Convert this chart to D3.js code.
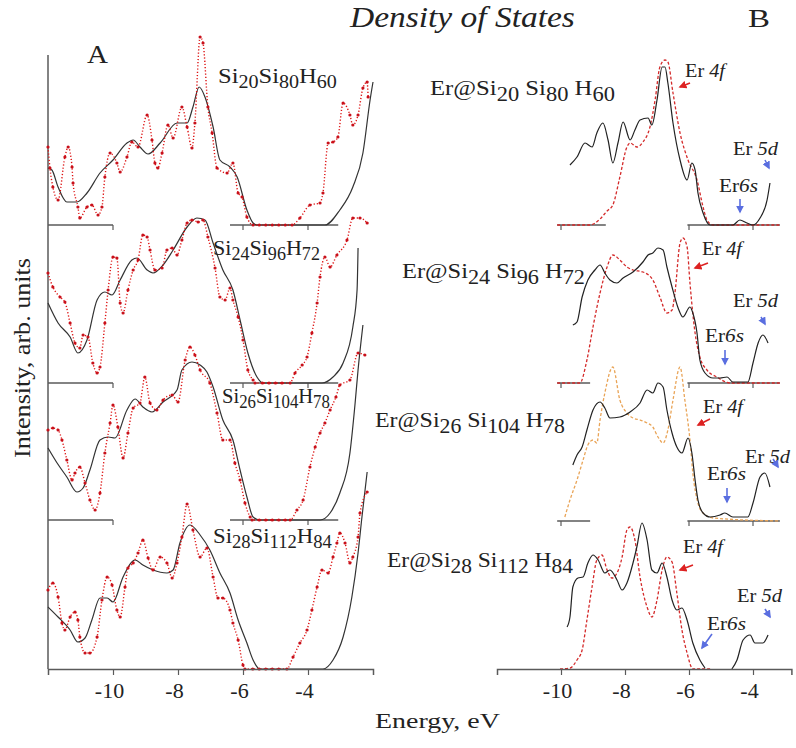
<!DOCTYPE html>
<html>
<head>
<meta charset="utf-8">
<script src="https://cdn.jsdelivr.net/npm/d3@7"></script>
<style>
  body { margin: 0; background: #fff; }
  svg { display: block; }
  text { font-family: "Liberation Serif", "Times New Roman", Times, serif; fill: #222; }
</style>
</head>
<body>
<svg id="chart"></svg>
<script>
// ---- data: energy (eV), intensity (arb. units) ----
const energyTicks = [-10, -8, -6, -4];

// Panel A, pure clusters: black = solid, red = dotted
const aBlack1 = [[-12,57],[-11.88,55],[-11.69,38],[-11.42,23],[-11.11,23],[-10.8,32],[-10.4,52],[-10,65],[-9.57,82],[-9.38,85],[-9.17,78],[-8.92,71],[-8.55,82],[-8.03,102],[-7.72,102],[-7.54,118],[-7.35,138],[-7.17,128],[-6.92,98],[-6.71,65],[-6.4,58],[-6.18,48],[-5.88,15],[-5.69,2],[-5.57,0],[-3.48,0],[-3.02,15],[-2.62,38],[-2.31,72],[-2.09,125],[-2,143]];
const aRed1 = [[-12,78],[-11.94,57],[-11.85,38],[-11.69,25],[-11.48,68],[-11.38,78],[-11.26,58],[-11.23,42],[-11.08,18],[-11.02,7],[-10.8,18],[-10.65,20],[-10.46,10],[-10.34,18],[-10.25,48],[-10.09,72],[-9.88,62],[-9.78,53],[-9.57,68],[-9.42,83],[-9.23,78],[-8.95,110],[-8.8,85],[-8.71,62],[-8.62,57],[-8.49,72],[-8.31,100],[-8.15,87],[-7.88,118],[-7.72,98],[-7.57,77],[-7.48,102],[-7.32,188],[-7.23,182],[-7.08,118],[-6.95,92],[-6.8,57],[-6.49,52],[-6.31,62],[-6.15,32],[-6.03,28],[-5.88,8],[-5.69,0],[-5.5,0],[-5.3,0],[-5.1,0],[-4.9,0],[-4.7,0],[-4.49,0],[-4.25,7],[-3.94,20],[-3.63,22],[-3.54,32],[-3.38,82],[-3.23,83],[-3.08,88],[-2.92,122],[-2.71,110],[-2.62,100],[-2.46,110],[-2.31,137],[-2.18,143],[-2.15,128]];

const aBlack2 = [[-12,80],[-11.69,60],[-11.32,46],[-11.08,30],[-10.8,43],[-10.49,83],[-10.25,91],[-10.03,88],[-9.78,103],[-9.42,123],[-9.26,125],[-8.95,113],[-8.77,110],[-8.46,118],[-8.15,133],[-7.72,156],[-7.42,165],[-7.17,163],[-6.92,140],[-6.62,113],[-6.31,93],[-6.09,63],[-5.85,30],[-5.57,6],[-5.38,0],[-3.57,0],[-3.23,6],[-2.92,20],[-2.62,56],[-2.49,93],[-2.46,135]];
const aRed2 = [[-12,110],[-11.85,96],[-11.63,86],[-11.48,81],[-11.32,60],[-11.17,40],[-11.02,35],[-10.92,48],[-10.77,46],[-10.62,20],[-10.49,10],[-10.4,16],[-10.25,60],[-10.15,93],[-10,126],[-9.88,125],[-9.78,80],[-9.69,70],[-9.54,93],[-9.38,113],[-9.23,123],[-9.08,148],[-8.95,146],[-8.86,133],[-8.71,113],[-8.49,115],[-8.34,133],[-8.18,135],[-8.03,128],[-7.88,143],[-7.72,160],[-7.57,163],[-7.38,161],[-7.23,163],[-7.08,146],[-6.86,115],[-6.71,86],[-6.55,83],[-6.4,95],[-6.31,83],[-6.15,66],[-6,43],[-5.85,13],[-5.69,3],[-5.63,0],[-5.4,0],[-5.2,0],[-5,0],[-4.8,0],[-4.55,0],[-4.4,10],[-4.18,18],[-4.03,26],[-3.88,50],[-3.72,80],[-3.63,106],[-3.48,126],[-3.32,116],[-3.11,128],[-2.8,143],[-2.62,165],[-2.4,165],[-2.18,160]];

const aBlack3 = [[-12,72],[-11.72,57],[-11.42,43],[-11.11,28],[-10.92,32],[-10.71,50],[-10.4,80],[-10.15,83],[-9.94,82],[-9.57,110],[-9.32,121],[-9.08,113],[-8.8,108],[-8.46,118],[-8.03,130],[-7.88,150],[-7.57,158],[-7.32,155],[-7.11,148],[-6.92,133],[-6.62,100],[-6.31,80],[-6.09,50],[-5.88,23],[-5.69,3],[-5.48,0],[-3.63,0],[-3.32,7],[-3.02,27],[-2.71,67],[-2.55,117],[-2.46,150],[-2.31,195]];
const aRed3 = [[-12,90],[-11.85,92],[-11.69,90],[-11.57,80],[-11.42,60],[-11.26,40],[-11.17,47],[-11.02,53],[-10.86,37],[-10.71,20],[-10.55,10],[-10.4,27],[-10.25,67],[-10.09,97],[-10,115],[-9.85,93],[-9.69,62],[-9.54,87],[-9.38,112],[-9.17,117],[-9.02,143],[-8.86,117],[-8.65,110],[-8.46,120],[-8.18,125],[-8,118],[-7.78,160],[-7.63,173],[-7.48,165],[-7.32,150],[-7.02,137],[-6.8,107],[-6.62,80],[-6.4,80],[-6.25,57],[-6.09,40],[-5.94,17],[-5.78,3],[-5.72,0],[-5.5,0],[-5.3,0],[-5.1,0],[-4.9,0],[-4.7,0],[-4.55,0],[-4.34,10],[-4.15,20],[-3.94,53],[-3.78,73],[-3.63,87],[-3.48,97],[-3.32,110],[-3.14,123],[-3.02,135],[-2.71,140],[-2.46,167],[-2.25,165]];

const aBlack4 = [[-12,62],[-11.69,52],[-11.32,39],[-11.08,27],[-10.86,31],[-10.65,49],[-10.4,71],[-10.18,71],[-10,67],[-9.69,92],[-9.32,109],[-9.08,104],[-8.77,99],[-8.34,96],[-8.15,99],[-7.94,126],[-7.63,144],[-7.32,134],[-7.02,119],[-6.71,96],[-6.4,76],[-6.15,49],[-5.88,26],[-5.69,9],[-5.48,0],[-3.54,0],[-3.23,9],[-2.92,32],[-2.65,72],[-2.46,116],[-2.34,152],[-2.18,197]];
const aRed4 = [[-12,79],[-11.85,86],[-11.69,72],[-11.57,46],[-11.48,39],[-11.32,52],[-11.17,57],[-11.08,49],[-11.02,32],[-10.86,16],[-10.71,16],[-10.49,32],[-10.34,69],[-10.18,92],[-10.03,84],[-9.88,59],[-9.78,52],[-9.63,82],[-9.54,101],[-9.38,106],[-9.23,116],[-9.08,129],[-8.92,111],[-8.77,99],[-8.55,112],[-8.34,106],[-8.18,91],[-8.03,106],[-7.88,132],[-7.72,165],[-7.54,139],[-7.32,112],[-7.11,121],[-6.92,92],[-6.77,71],[-6.62,71],[-6.4,59],[-6.31,46],[-6.15,29],[-6,4],[-5.94,0],[-5.7,0],[-5.5,0],[-5.3,0],[-5.1,0],[-4.9,0],[-4.65,0],[-4.46,12],[-4.25,26],[-4.03,39],[-3.88,59],[-3.72,82],[-3.57,99],[-3.38,96],[-3.23,112],[-3.11,126],[-3.02,136],[-2.86,126],[-2.71,106],[-2.62,112],[-2.46,132],[-2.4,156],[-2.18,177]];

// Panel B, Er-doped clusters: black = total DOS, dashed = Er 4f
const bBlack1 = [[-9.72,60],[-9.5,68],[-9.25,82],[-9.03,78],[-8.88,92],[-8.69,102],[-8.53,85],[-8.38,62],[-8.22,82],[-8.06,103],[-7.84,85],[-7.69,95],[-7.53,105],[-7.28,107],[-7.16,100],[-7,125],[-6.84,158],[-6.75,158],[-6.66,142],[-6.5,102],[-6.28,65],[-6.06,45],[-5.91,62],[-5.81,55],[-5.72,32],[-5.56,12],[-5.34,0],[-4.63,0],[-4.41,5],[-4.19,2],[-4,0],[-3.78,7],[-3.56,25],[-3.47,42]];
const bRed1 = [[-10.12,0],[-9.09,0],[-8.78,6],[-8.56,14],[-8.38,20],[-8.16,48],[-7.94,78],[-7.84,82],[-7.63,78],[-7.44,83],[-7.22,98],[-7.06,125],[-6.91,158],[-6.75,165],[-6.66,163],[-6.5,132],[-6.28,92],[-6.03,65],[-5.75,45],[-5.56,18],[-5.44,5],[-5.25,0],[-3.16,0]];

const bBlack2 = [[-9.63,58],[-9.5,61],[-9.34,86],[-9.16,103],[-8.94,113],[-8.78,118],[-8.63,110],[-8.47,103],[-8.25,100],[-8.06,105],[-7.75,111],[-7.44,121],[-7.28,128],[-7.13,130],[-6.97,135],[-6.81,133],[-6.69,116],[-6.53,96],[-6.34,75],[-6.19,66],[-5.97,76],[-5.88,70],[-5.75,50],[-5.66,23],[-5.5,10],[-5.25,5],[-5.03,5],[-4.81,6],[-4.63,1],[-4.16,1],[-4,20],[-3.84,40],[-3.69,48],[-3.53,40]];
const bRed2 = [[-10.12,0],[-9.41,0],[-9.19,23],[-9,56],[-8.78,90],[-8.56,116],[-8.38,128],[-8.16,123],[-7.94,116],[-7.75,113],[-7.44,111],[-7.13,103],[-6.91,86],[-6.69,70],[-6.53,73],[-6.44,90],[-6.28,140],[-6.19,145],[-6.06,136],[-5.97,100],[-5.81,50],[-5.66,26],[-5.44,13],[-5.13,6],[-4.72,0],[-3.16,0]];

const bBlack3 = [[-9.63,56],[-9.5,66],[-9.34,74],[-9.19,91],[-9,111],[-8.78,119],[-8.63,113],[-8.47,103],[-8.16,104],[-7.84,109],[-7.53,118],[-7.31,131],[-7.13,128],[-6.97,138],[-6.81,134],[-6.69,111],[-6.53,88],[-6.38,74],[-6.22,68],[-6.03,83],[-5.91,68],[-5.81,41],[-5.72,21],[-5.56,8],[-5.34,4],[-5.03,6],[-4.88,8],[-4.63,4],[-4.16,4],[-4,18],[-3.78,44],[-3.63,48],[-3.47,34]];
const bOrange3 = [[-9.88,4],[-9.72,21],[-9.5,41],[-9.31,61],[-9.16,76],[-9,81],[-8.88,78],[-8.78,101],[-8.63,128],[-8.38,154],[-8.16,121],[-7.94,108],[-7.75,103],[-7.53,101],[-7.31,98],[-7.13,94],[-6.97,84],[-6.81,78],[-6.66,91],[-6.5,121],[-6.28,154],[-6.13,121],[-5.97,81],[-5.88,48],[-5.72,18],[-5.56,8],[-5.25,3],[-3.16,0]];

const bBlack4 = [[-9.81,42],[-9.72,52],[-9.63,82],[-9.47,91],[-9.31,92],[-9.16,106],[-9,114],[-8.84,109],[-8.63,96],[-8.47,99],[-8.25,89],[-8.09,79],[-7.94,86],[-7.75,106],[-7.63,122],[-7.47,146],[-7.31,129],[-7.16,99],[-7,96],[-6.84,106],[-6.69,92],[-6.53,69],[-6.38,59],[-6.22,61],[-6.06,49],[-5.88,26],[-5.66,9],[-5.5,1]];
const bBlack4Tail = [[-4.66,0],[-4.5,9],[-4.31,29],[-4.09,34],[-3.94,26],[-3.69,26],[-3.53,34]];
const bRed4 = [[-10.03,0],[-9.72,1],[-9.5,9],[-9.34,19],[-9.19,49],[-9.03,82],[-8.88,109],[-8.72,114],[-8.56,99],[-8.41,91],[-8.25,96],[-8.09,112],[-7.94,139],[-7.84,142],[-7.69,129],[-7.53,92],[-7.31,62],[-7.16,52],[-7,69],[-6.84,99],[-6.69,112],[-6.53,107],[-6.38,76],[-6.22,39],[-6.06,16],[-5.88,0],[-5.3,0]];

const aNames = [["20","80","60"], ["24","96","72"], ["26","104","78"], ["28","112","84"]];

document.addEventListener('DOMContentLoaded', function() {
  const width = 796, height = 748;
  const serif = '"Liberation Serif", "Times New Roman", Times, serif';
  const svg = d3.select("#chart").attr("width", width).attr("height", height);
  svg.append("rect").attr("width", width).attr("height", height).attr("fill", "#fff");

  const axisColor = "#5a5a5a";
  const xA = d3.scaleLinear().domain([-12, -2]).range([48, 373]);
  const xB = d3.scaleLinear().domain([-12, -2.8]).range([497, 791.4]);
  const baseA = [225, 383, 520, 669];
  const baseB = [225, 383, 521, 669];
  const yFor = base => d3.scaleLinear().domain([0, 200]).range([base, base - 200]);

  // arrow markers
  const defs = svg.append("defs");
  [["redHead", "#d22"], ["blueHead", "#5a6ee0"]].forEach(([id, c]) => {
    defs.append("marker").attr("id", id).attr("viewBox", "0 0 10 10")
      .attr("refX", 8).attr("refY", 5).attr("markerWidth", 5).attr("markerHeight", 5)
      .attr("orient", "auto")
      .append("path").attr("d", "M0,0 L10,5 L0,10 z").attr("fill", c);
  });

  // helper: text built from parts, stretched to the target width
  function label(x, y, parts, size, width, opts = {}) {
    const t = svg.append("text").attr("font-size", size).attr("font-family", serif);
    if (opts.italic) t.attr("font-style", "italic");
    let shifted = 0;
    parts.forEach(p => {
      const s = t.append("tspan").text(p.t);
      const want = p.sub ? opts.sub || 5 : 0;
      if (want !== shifted) { s.attr("dy", want - shifted); shifted = want; }
      if (p.sub) s.attr("font-size", opts.subSize || size * 0.82);
      if (p.it) s.attr("font-style", "italic");
    });
    const w = t.node().getComputedTextLength();
    const sx = width ? width / w : 1;
    t.attr("transform", `translate(${x},${y}) scale(${sx},1)`);
    return t;
  }

  const lineOf = (x, y) => d3.line().x(d => x(d[0])).y(d => y(d[1])).curve(d3.curveMonotoneX);

  // ---------- Panel A ----------
  const gA = svg.append("g");
  gA.append("line").attr("x1", xA(-12)).attr("x2", xA(-12)).attr("y1", 55).attr("y2", 669)
    .attr("stroke", axisColor).attr("stroke-width", 1.5);

  const aBlack = [aBlack1, aBlack2, aBlack3, aBlack4];
  const aRed = [aRed1, aRed2, aRed3, aRed4];
  const segA = [[-12, -10], [-6.4, -3.07]];

  baseA.forEach((b, i) => {
    const y = yFor(b);
    if (i < 3) {
      segA.forEach(s => gA.append("line").attr("x1", xA(s[0])).attr("x2", xA(s[1]))
        .attr("y1", b).attr("y2", b).attr("stroke", axisColor).attr("stroke-width", 1.5));
      energyTicks.filter(t => t !== -8).forEach(t => gA.append("line")
        .attr("x1", xA(t)).attr("x2", xA(t)).attr("y1", b).attr("y2", b + 5)
        .attr("stroke", axisColor).attr("stroke-width", 1.2));
    }
    gA.append("path").datum(aBlack[i]).attr("d", lineOf(xA, y))
      .attr("fill", "none").attr("stroke", "#333").attr("stroke-width", 1.2);
    gA.append("path").datum(aRed[i]).attr("d", lineOf(xA, y))
      .attr("fill", "none").attr("stroke", "#d11").attr("stroke-width", 1.4)
      .attr("stroke-dasharray", "1.2,2");
    gA.selectAll(null).data(aRed[i]).enter().append("circle")
      .attr("cx", d => xA(d[0])).attr("cy", d => y(d[1])).attr("r", 1.6)
      .attr("fill", "#c8101a");
  });

  const axA = gA.append("g").attr("transform", `translate(0,${baseA[3]})`)
    .call(d3.axisBottom(xA).tickValues(energyTicks).tickFormat(d => String(d)).tickSizeOuter(0).tickSize(6));
  axA.select(".domain").attr("stroke", axisColor).attr("stroke-width", 1.5);
  axA.selectAll(".tick line").attr("stroke", axisColor).attr("stroke-width", 1.2);
  axA.selectAll("text").attr("y", 29).attr("dy", null).attr("dx", -4)
    .attr("font-size", 22).attr("fill", "#222").attr("font-family", serif);

  // panel A curve names
  const aPos = [[218, 83, 119], [213, 255, 107], [222, 403, 108], [213, 543, 119]];
  aNames.forEach((n, i) => {
    label(aPos[i][0], aPos[i][1], [{t: "Si"}, {t: n[0], sub: 1}, {t: "Si"}, {t: n[1], sub: 1}, {t: "H"}, {t: n[2], sub: 1}],
      22, aPos[i][2], {sub: 5, subSize: 18});
  });

  // ---------- Panel B ----------
  const gB = svg.append("g");
  const bBlack = [bBlack1, bBlack2, bBlack3, bBlack4];
  const bDash = [bRed1, bRed2, bOrange3, bRed4];
  const dashColor = ["#d42a2a", "#d42a2a", "#e9a457", "#d42a2a"];
  const segB = [[[-10.12, -8.6], [-6.05, -3.16]], [[-10.12, -9.09], [-6.05, -3.16]], [[-10.12, -9.09], [-6.05, -3.16]]];

  baseB.forEach((b, i) => {
    const y = yFor(b);
    if (i < 3) {
      segB[i].forEach(s => gB.append("line").attr("x1", xB(s[0])).attr("x2", xB(s[1]))
        .attr("y1", b).attr("y2", b).attr("stroke", axisColor).attr("stroke-width", 1.5));
      energyTicks.filter(t => t !== -8).forEach(t => gB.append("line")
        .attr("x1", xB(t)).attr("x2", xB(t)).attr("y1", b).attr("y2", b + 5)
        .attr("stroke", axisColor).attr("stroke-width", 1.2));
    }
    gB.append("path").datum(bDash[i]).attr("d", lineOf(xB, y))
      .attr("fill", "none").attr("stroke", dashColor[i]).attr("stroke-width", 1.3)
      .attr("stroke-dasharray", "3,2");
    gB.append("path").datum(bBlack[i]).attr("d", lineOf(xB, y))
      .attr("fill", "none").attr("stroke", "#222").attr("stroke-width", 1.2);
  });
  gB.append("path").datum(bBlack4Tail).attr("d", lineOf(xB, yFor(baseB[3])))
    .attr("fill", "none").attr("stroke", "#222").attr("stroke-width", 1.2);

  const axB = gB.append("g").attr("transform", `translate(0,${baseB[3]})`)
    .call(d3.axisBottom(xB).tickValues(energyTicks).tickFormat(d => String(d)).tickSizeOuter(0).tickSize(6));
  axB.select(".domain").attr("stroke", axisColor).attr("stroke-width", 1.5);
  axB.selectAll(".tick line").attr("stroke", axisColor).attr("stroke-width", 1.2);
  axB.selectAll("text").attr("y", 29).attr("dy", null).attr("dx", -4)
    .attr("font-size", 22).attr("fill", "#222").attr("font-family", serif);

  // Er@ names
  const bPos = [[430, 95, 185], [402, 278, 183], [375, 427, 190], [387, 567, 186]];
  aNames.forEach((n, i) => {
    label(bPos[i][0], bPos[i][1], [{t: "Er@Si"}, {t: n[0], sub: 1}, {t: " Si"}, {t: n[1], sub: 1}, {t: " H"}, {t: n[2], sub: 1}],
      22, bPos[i][2], {sub: 6, subSize: 20});
  });

  // orbital annotations and arrows
  const notes = [
    {f: [685, 77], d: [733, 155], s: [719, 192], fa: [[690, 83], [680, 87]], da: [[765, 160], [769, 168]], sa: [[740, 199], [740, 212]]},
    {f: [702, 255], d: [733, 307], s: [705, 342], fa: [[708, 263], [695, 268]], da: [[761, 317], [765, 324]], sa: [[725, 350], [725, 364]]},
    {f: [703, 413], d: [745, 463], s: [707, 480], fa: [[710, 419], [698, 425]], da: [[773, 459], [778, 467]], sa: [[727, 488], [727, 502]]},
    {f: [683, 553], d: [737, 602], s: [707, 630], fa: [[693, 565], [680, 570]], da: [[765, 609], [770, 617]], sa: [[712, 634], [702, 648]]}
  ];
  notes.forEach(n => {
    label(n.f[0], n.f[1], [{t: "Er "}, {t: "4f", it: 1}], 19, 40);
    label(n.d[0], n.d[1], [{t: "Er "}, {t: "5d", it: 1}], 19, 45);
    label(n.s[0], n.s[1], [{t: "Er"}, {t: "6s", it: 1}], 19, 39);
    [[n.fa, "#d22", "redHead"], [n.da, "#5a6ee0", "blueHead"], [n.sa, "#5a6ee0", "blueHead"]].forEach(([a, c, m]) => {
      svg.append("line").attr("x1", a[0][0]).attr("y1", a[0][1]).attr("x2", a[1][0]).attr("y2", a[1][1])
        .attr("stroke", c).attr("stroke-width", 1.6).attr("marker-end", `url(#${m})`);
    });
  });

  // ---------- titles ----------
  label(350, 27, [{t: "Density of States"}], 29, 225, {italic: true});
  label(87, 63, [{t: "A"}], 25, 21);
  label(748, 27, [{t: "B"}], 25, 22);
  label(375, 728, [{t: "Energy, eV"}], 22, 125);

  const yl = svg.append("text").attr("font-size", 23).attr("font-family", serif)
    .attr("text-anchor", "middle").text("Intensity, arb. units");
  const yw = yl.node().getComputedTextLength();
  yl.attr("transform", `translate(30,358) rotate(-90) scale(${200 / yw},1)`);
});
</script>
</body>
</html>
